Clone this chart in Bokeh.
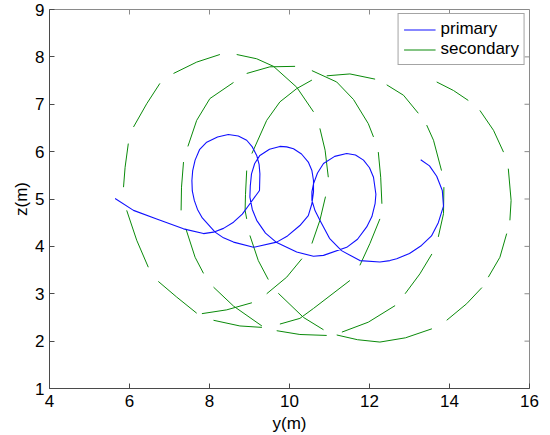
from bokeh.plotting import figure
from bokeh.models import Range1d, FixedTicker, Legend, LegendItem
from bokeh.embed import file_html
from bokeh.resources import INLINE

# ---------------- data ----------------
x_ticks = [4, 6, 8, 10, 12, 14, 16]
z_ticks = [1, 2, 3, 4, 5, 6, 7, 8, 9]

primary_y = [5.64, 6.10, 6.68, 7.35, 7.85, 8.10, 8.35, 8.60, 8.82, 9.01, 9.25, 9.26,
             9.24, 9.18, 9.07, 8.93, 8.72, 8.47, 8.20, 7.93, 7.75, 7.64, 7.58, 7.56,
             7.57, 7.62, 7.70, 7.82, 8.14, 8.35, 8.60, 9.10, 9.68, 9.95, 10.26, 10.47,
             10.56, 10.60, 10.60, 10.56, 10.47, 10.30, 10.10, 9.93, 9.76, 9.50, 9.26,
             9.13, 9.05, 9.02, 9.01, 9.07, 9.18, 9.40, 9.68, 10.18, 10.60, 10.85, 11.43,
             11.70, 11.93, 12.06, 12.14, 12.16, 12.10, 12.00, 11.85, 11.65, 11.43, 11.13,
             10.85, 10.70, 10.60, 10.56, 10.56, 10.64, 10.76, 11.00, 11.30, 11.76, 12.26,
             12.51, 12.68, 13.00, 13.30, 13.55, 13.72, 13.85, 13.82, 13.68, 13.50, 13.28]
primary_z = [5.01, 4.76, 4.58, 4.37, 4.27, 4.30, 4.38, 4.51, 4.68, 4.90, 5.18, 5.53,
             5.73, 5.92, 6.10, 6.24, 6.33, 6.36, 6.31, 6.20, 6.04, 5.82, 5.60, 5.39,
             5.17, 4.97, 4.78, 4.60, 4.30, 4.18, 4.09, 3.98, 4.09, 4.22, 4.44, 4.65,
             4.90, 5.15, 5.39, 5.60, 5.78, 5.95, 6.06, 6.10, 6.11, 6.05, 5.92,
             5.75, 5.53, 5.28, 5.04, 4.78, 4.55, 4.28, 4.08, 3.88, 3.79, 3.81, 3.98,
             4.15, 4.41, 4.63, 4.90, 5.10, 5.46, 5.66, 5.82, 5.93, 5.96, 5.90,
             5.75, 5.55, 5.32, 5.15, 4.97, 4.75, 4.55, 4.17, 3.91, 3.70, 3.67,
             3.70, 3.74, 3.85, 4.02, 4.22, 4.50, 4.85, 5.18, 5.48, 5.70, 5.83]

# visible pieces of the dashed "secondary" trace
secondary_y = [
    [5.97, 5.89, 5.85], [5.93, 6.18, 6.47], [6.72, 7.18, 7.68], [7.81, 8.43, 9.06],
    [9.43, 9.93, 10.31], [10.56, 10.76, 10.90], [10.97, 10.89, 10.76],
    [10.60, 10.18, 9.60, 9.18, 8.68], [8.26, 7.68, 7.10], [6.76, 6.43, 6.10],
    [7.29, 7.30, 7.35], [7.46, 7.68, 8.01, 8.60], [8.93, 9.51, 10.14],
    [10.56, 11.18, 11.60, 11.97, 12.10], [12.22, 12.28, 12.31], [12.26, 12.01, 11.76],
    [11.51, 10.60, 10.26, 9.76], [9.31, 8.76, 8.10], [7.41, 7.64, 7.85], [8.10, 8.60, 9.31],
    [9.06, 9.43, 9.76, 10.18, 10.56], [10.93, 11.51, 12.14], [12.43, 12.85, 13.22],
    [13.43, 13.60, 13.80], [13.86, 13.85, 13.72], [13.56, 13.26, 12.89],
    [12.64, 11.97, 11.31], [10.85, 10.35, 9.72], [9.47, 9.22, 9.01], [8.93, 8.89, 8.90, 8.93],
    [13.68, 14.10, 14.47], [14.76, 15.10, 15.35], [15.47, 15.54, 15.51],
    [15.43, 15.26, 14.97], [14.81, 14.43, 13.93], [13.56, 12.90, 12.26, 11.70, 11.18],
    [10.93, 10.26, 9.68],
]
secondary_z = [
    [6.17, 5.67, 5.25], [4.76, 4.13, 3.56], [3.26, 2.93, 2.59], [2.58, 2.66, 2.81],
    [3.00, 3.35, 3.74], [4.06, 4.55, 5.05], [5.46, 6.03, 6.49],
    [6.84, 7.36, 7.80, 7.96, 8.05], [8.05, 7.89, 7.65], [7.44, 7.01, 6.52],
    [4.76, 5.25, 5.78], [6.11, 6.66, 7.12, 7.46], [7.65, 7.79, 7.80],
    [7.71, 7.47, 7.10, 6.59, 6.31], [5.99, 5.46, 4.90], [4.58, 4.06, 3.60],
    [3.28, 2.69, 2.48, 2.36], [2.29, 2.32, 2.44], [4.37, 3.77, 3.43], [3.14, 2.74, 2.32],
    [5.96, 6.66, 7.05, 7.33, 7.51], [7.60, 7.64, 7.53], [7.41, 7.19, 6.81],
    [6.56, 6.24, 5.60], [5.25, 4.69, 4.20], [3.84, 3.42, 3.00],
    [2.75, 2.40, 2.19], [2.24, 2.50, 3.01], [3.30, 3.70, 4.23], [4.58, 4.76, 5.10, 5.60],
    [7.47, 7.29, 7.08], [6.87, 6.45, 5.99], [5.64, 4.97, 4.55],
    [4.27, 3.77, 3.35], [3.13, 2.79, 2.44], [2.26, 2.07, 1.98, 2.03, 2.13],
    [2.12, 2.14, 2.22],
]

# ---------------- styling ----------------
FONT = "Liberation Sans"
FS = "17px"
BLUE = "#1010ff"
GREEN = "#0a8a0a"
DARK = "#4a4a4a"
LIGHT = "#8a8a8a"

W, H = 540, 435
p = figure(width=W, height=H,
           x_range=Range1d(x_ticks[0], x_ticks[-1]), y_range=Range1d(z_ticks[0], z_ticks[-1]),
           output_backend="svg", toolbar_location=None,
           min_border_left=49, min_border_right=11,
           min_border_top=9, min_border_bottom=47,
           x_axis_label="y(m)", y_axis_label="z(m)")
p.grid.visible = False
p.outline_line_color = LIGHT
p.outline_line_width = 1
p.background_fill_color = "white"
p.border_fill_color = "white"

for ax in (p.xaxis[0], p.yaxis[0]):
    ax.axis_line_color = DARK
    ax.axis_line_width = 1
    ax.major_tick_line_color = DARK
    ax.major_tick_in = 5
    ax.major_tick_out = 0
    ax.minor_tick_line_color = None
    ax.minor_tick_in = 0
    ax.minor_tick_out = 0
    ax.major_label_text_font = FONT
    ax.major_label_text_font_size = FS
    ax.major_label_text_color = "black"
    ax.axis_label_text_font = FONT
    ax.axis_label_text_font_size = FS
    ax.axis_label_text_font_style = "normal"
    ax.axis_label_text_color = "black"
p.xaxis.ticker = FixedTicker(ticks=x_ticks)
p.yaxis.ticker = FixedTicker(ticks=z_ticks)
p.xaxis.major_label_standoff = 6
p.yaxis.major_label_standoff = 5
p.xaxis.axis_label_standoff = 4
p.yaxis.axis_label_standoff = 1

# mirrored inward ticks on the top and right edges of the box
tick_len_x = 5 / 40.0      # 5 px expressed in data units
tick_len_z = 5 / 47.3
top = z_ticks[-1]
right = x_ticks[-1]
p.segment(x0=x_ticks, y0=[top] * len(x_ticks), x1=x_ticks, y1=[top - tick_len_z] * len(x_ticks),
          line_color=LIGHT, line_width=1)
p.segment(x0=[right] * len(z_ticks), y0=z_ticks, x1=[right - tick_len_x] * len(z_ticks), y1=z_ticks,
          line_color=LIGHT, line_width=1)

r_sec = p.multi_line(xs=secondary_y, ys=secondary_z, line_color=GREEN, line_width=1)
r_pri = p.line(x=primary_y, y=primary_z, line_color=BLUE, line_width=1.1, line_join="round")
r_dot = p.scatter(x=[], y=[], marker="circle", size=3.5, fill_color=GREEN, line_color=GREEN)

legend = Legend(items=[LegendItem(label="primary", renderers=[r_pri]),
                       LegendItem(label="secondary", renderers=[r_sec, r_dot])],
                location="top_right")
legend.margin = 4
legend.padding = 5
legend.spacing = 0
legend.glyph_width = 32
legend.glyph_height = 19
legend.label_height = 19
legend.label_standoff = 5
legend.label_text_font = FONT
legend.label_text_font_size = FS
legend.label_text_color = "black"
legend.border_line_color = DARK
legend.border_line_width = 1
legend.background_fill_color = "white"
legend.background_fill_alpha = 1
p.add_layout(legend)

open("out.html", "w").write(file_html(p, INLINE))
